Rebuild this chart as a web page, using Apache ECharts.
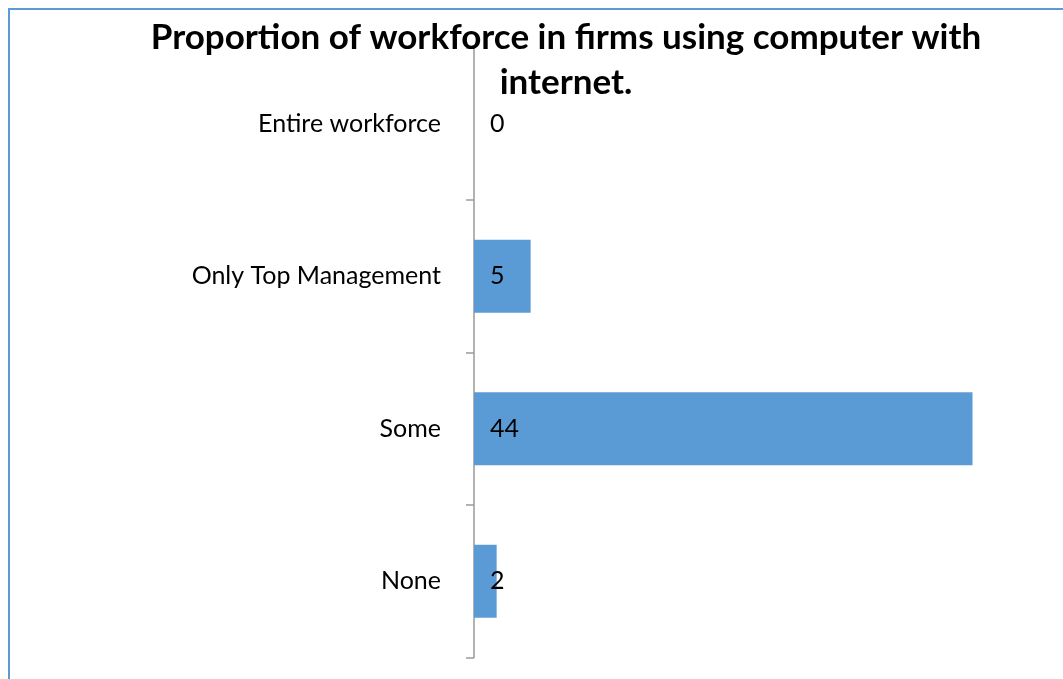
<!DOCTYPE html>
<html>
<head>
<meta charset="utf-8">
<script src="https://cdn.jsdelivr.net/npm/echarts@6/dist/echarts.min.js"></script>
<style>
  html, body { margin: 0; padding: 0; background: #fff; }
  #chart { width: 1063px; height: 679px; }
</style>
</head>
<body>
<div id="chart"></div>
<script>
// Share of firms by how much of the workforce uses a computer with internet
const titleText = 'Proportion of workforce in firms using computer with\ninternet.';
const categories = ['Entire workforce', 'Only Top Management', 'Some', 'None'];
const values = [0, 5, 44, 2];
const axisMax = 50;

const FONT = 'Lato, "Open Sans", sans-serif';
const chart = echarts.init(document.getElementById('chart'), null, { renderer: 'canvas' });

chart.setOption({
  backgroundColor: '#ffffff',
  animation: false,
  title: {
    text: titleText,
    left: 566,
    top: 15,
    textAlign: 'center',
    padding: 0,
    textStyle: {
      fontFamily: FONT,
      fontWeight: 'bold',
      fontSize: 35,
      lineHeight: 45,
      color: '#000000'
    }
  },
  graphic: [{
    type: 'rect',
    silent: true,
    z: -10,
    shape: { x: 9, y: 9, width: 1200, height: 800 },
    style: { fill: 'none', stroke: '#5B9BD5', lineWidth: 2 }
  }],
  grid: {
    left: 474,
    top: 47.5,
    right: 22.5,
    bottom: 21.5,
    containLabel: false
  },
  xAxis: {
    type: 'value',
    min: 0,
    max: axisMax,
    show: false,
    splitLine: { show: false }
  },
  yAxis: {
    type: 'category',
    data: categories,
    inverse: true,
    axisLine: { show: true, lineStyle: { color: '#9A9A9A', width: 1.5 } },
    axisTick: { show: true, length: 8, lineStyle: { color: '#9A9A9A', width: 1.5 } },
    axisLabel: {
      margin: 33,
      fontFamily: FONT,
      fontSize: 25,
      color: '#000000'
    },
    splitLine: { show: false }
  },
  series: [{
    type: 'bar',
    data: values,
    barCategoryGap: '52%',
    itemStyle: { color: '#5B9BD5' },
    label: {
      show: true,
      position: 'insideLeft',
      distance: 16,
      fontFamily: FONT,
      fontSize: 25,
      color: '#000000'
    }
  }]
});
</script>
</body>
</html>
